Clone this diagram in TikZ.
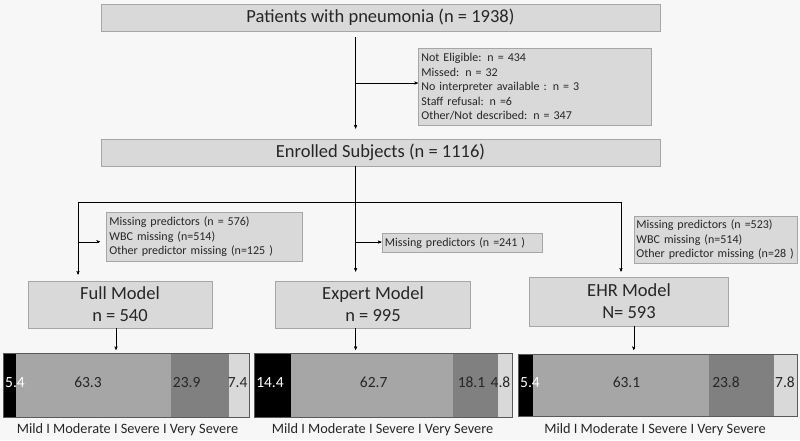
\documentclass[tikz,border=0pt]{standalone}
\usepackage{fontspec}
\setmainfont{Carlito}
\usetikzlibrary{arrows}
\definecolor{bgcol}{HTML}{F7F7F7}
\definecolor{boxfill}{HTML}{D9D9D9}
\definecolor{boxline}{HTML}{A6A6A6}
\definecolor{modcol}{HTML}{A6A6A6}
\definecolor{sevcol}{HTML}{808080}
\definecolor{vsevcol}{HTML}{D9D9D9}
\definecolor{inkcol}{HTML}{262626}
\tikzset{->, > = stealth', line width = 1pt,
  flowbox/.style = {draw = boxline, fill = boxfill, line width = 0.8pt, inner sep = 0pt, text = inkcol},
  bigbox/.style = {flowbox, font = \fontsize{18.5}{22}\selectfont, align = center},
  notebox/.style = {flowbox, font = \fontsize{12}{14.5}\selectfont, align = left, inner xsep = 3pt, anchor = north west},
  barframe/.style = {draw = black!65, line width = 0.8pt, inner sep = 0pt, anchor = north west},
  barnum/.style = {font = \fontsize{15.5}{18}\selectfont, text = inkcol, inner sep = 0pt},
  barkey/.style = {font = \fontsize{14.3}{17}\selectfont, text = inkcol, inner sep = 0pt}}

\begin{document}
\begin{tikzpicture}[x = 1pt, y = -1pt]
    \fill [bgcol] (0,0) rectangle (800,440);
    \useasboundingbox (0,0) rectangle (800,440);
    % boxes
    \node [bigbox, minimum width = 559pt, minimum height = 27pt] (patients) at (380.5,17.5) {Patients with pneumonia (n = 1938)};
    \node [notebox, text width = 227pt, minimum height = 77pt] (excl) at (418,48) {Not Eligible: n = 434\\Missed: n = 32\\No interpreter available : n = 3\\Staff refusal: n =6\\Other/Not described: n = 347};
    \node [bigbox, minimum width = 559pt, minimum height = 27pt] (enrolled) at (380.5,152.5) {Enrolled Subjects (n = 1116)};
    \node [notebox, text width = 190pt, minimum height = 49pt] (fullmiss) at (106,212) {Missing predictors (n = 576)\\WBC missing (n=514)\\Other predictor missing (n=125 )};
    \node [notebox, text width = 154pt, minimum height = 19pt] (expmiss) at (381.5,233) {Missing predictors (n =241 )};
    \node [notebox, inner xsep = 2pt, text width = 159pt, minimum height = 47pt] (ehrmiss) at (634,216) {Missing predictors (n =523)\\WBC missing (n=514)\\Other predictor missing (n=28 )};
    \node [bigbox, minimum width = 184pt, minimum height = 47pt] (full) at (120,304.5) {Full Model\\n = 540};
    \node [bigbox, minimum width = 195.5pt, minimum height = 47pt] (expert) at (373,304.5) {Expert Model\\n = 995};
    \node [bigbox, minimum width = 198.5pt, minimum height = 49pt] (ehr) at (629,301.5) {EHR Model\\N= 593};
    % paths
    \coordinate (trunk) at (355.6,0);
    \coordinate (exclbr) at (355.6,83);
    \coordinate (lft) at (78,201.7);
    \coordinate (rgt) at (621,201.7);
    \coordinate (fullbr) at (78,241.7);
    \coordinate (expbr) at (355.6,242);
    \draw [shorten <= 6pt, shorten >= 10pt] (patients.south -| trunk) -- (enrolled.north -| trunk);
    \draw (exclbr) -- (exclbr -| excl.west);
    \draw [shorten >= 9pt] (enrolled.south -| trunk) -- (expert.north -| trunk);
    \draw [shorten >= 6pt] (trunk |- lft) -| (lft |- full.north);
    \draw [shorten >= 5pt] (trunk |- rgt) -| (rgt |- ehr.north);
    \draw [shorten >= 6pt] (fullbr) -- (fullbr -| fullmiss.west);
    \draw (expbr) -- (expbr -| expmiss.west);
    % bars
    \fill [black] (3,353) rectangle (16.3,417);
    \fill [modcol] (16.3,353) rectangle (171,417);
    \fill [sevcol] (171,353) rectangle (229.3,417);
    \fill [vsevcol] (229.3,353) rectangle (248.5,417);
    \node [barframe, minimum width = 245.5pt, minimum height = 64pt] (fullbar) at (3,353) {};
    \fill [black] (253.5,353) rectangle (290.7,417);
    \fill [modcol] (290.7,353) rectangle (452.7,417);
    \fill [sevcol] (452.7,353) rectangle (498.3,417);
    \fill [vsevcol] (498.3,353) rectangle (511.5,417);
    \node [barframe, minimum width = 258pt, minimum height = 64pt] (expbar) at (253.5,353) {};
    \fill [black] (518,354) rectangle (533,416);
    \fill [modcol] (533,354) rectangle (709,416);
    \fill [sevcol] (709,354) rectangle (774,416);
    \fill [vsevcol] (774,354) rectangle (796.5,416);
    \node [barframe, minimum width = 278.5pt, minimum height = 62pt] (ehrbar) at (518,354) {};
    \coordinate (fullarr) at (116,0);
    \coordinate (ehrarr) at (633.7,0);
    \draw [shorten >= 3pt] (full.south -| fullarr) -- (fullbar.north -| fullarr);
    \draw [shorten >= 3pt] (expert.south -| trunk) -- (expbar.north -| trunk);
    \draw [shorten >= 4pt] (ehr.south -| ehrarr) -- (ehrbar.north -| ehrarr);
    % values
    \node [barnum, text = white] (fmild) at (15,382.7) {5.4};
    \node [barnum] (fmod) at (88,382.7) {63.3};
    \node [barnum] (fsev) at (186.7,382.7) {23.9};
    \node [barnum] (fvsev) at (237.7,382.7) {7.4};
    \node [barnum, text = white] (emild) at (270,382.7) {14.4};
    \node [barnum] (emod) at (373.7,382.7) {62.7};
    \node [barnum] (esev) at (471.5,382.7) {18.1};
    \node [barnum] (evsev) at (500.5,382.7) {4.8};
    \node [barnum, text = white] (hmild) at (530,382.7) {5.4};
    \node [barnum] (hmod) at (626.5,382.7) {63.1};
    \node [barnum] (hsev) at (726,382.7) {23.8};
    \node [barnum] (hvsev) at (785,382.7) {7.8};
    \node [barkey] (fullkey) at (127.5,430) {Mild I Moderate I Severe I Very Severe};
    \node [barkey] (expkey) at (382.5,430) {Mild I Moderate I Severe I Very Severe};
    \node [barkey] (ehrkey) at (655,430) {Mild I Moderate I Severe I Very Severe};
\end{tikzpicture}
\end{document}
